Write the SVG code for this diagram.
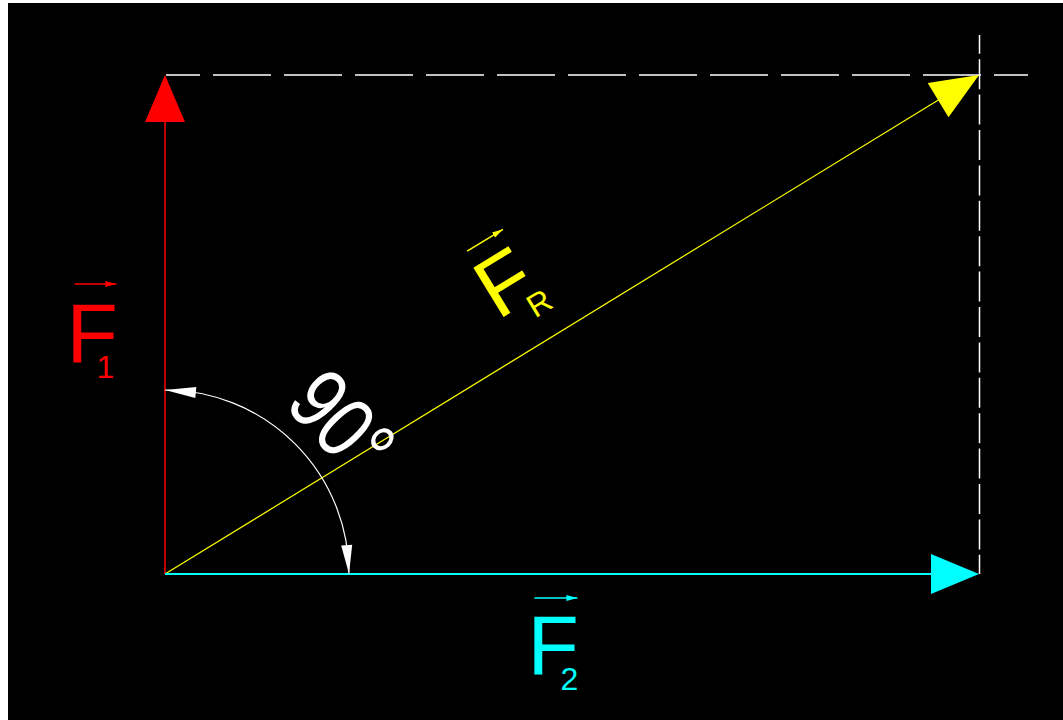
<svg xmlns="http://www.w3.org/2000/svg" width="1063" height="720" viewBox="0 0 1063 720">
  <style>
    text { font-family: "Liberation Sans", Arial, sans-serif; font-size: 84px; }
    .sub { font-size: 32px; }
    .red { fill: #ff0000; }
    .yel { fill: #ffff00; }
    .cya { fill: #00ffff; }
    .wht { fill: #ffffff; }
    .dash { stroke: #ffffff; stroke-width: 1.5; fill: none; }
  </style>
  <defs>
    <marker id="vecR" markerWidth="12" markerHeight="8" refX="11" refY="3.5" orient="auto" markerUnits="userSpaceOnUse">
      <path d="M0,0.5 L11,3.5 L0,6.5 Z" fill="#ff0000"/>
    </marker>
    <marker id="vecY" markerWidth="12" markerHeight="8" refX="11" refY="3.5" orient="auto" markerUnits="userSpaceOnUse">
      <path d="M0,0.5 L11,3.5 L0,6.5 Z" fill="#ffff00"/>
    </marker>
    <marker id="vecC" markerWidth="12" markerHeight="8" refX="11" refY="3.5" orient="auto" markerUnits="userSpaceOnUse">
      <path d="M0,0.5 L11,3.5 L0,6.5 Z" fill="#00ffff"/>
    </marker>
  </defs>

  <rect x="0" y="0" width="1063" height="720" fill="#ffffff"/>
  <rect x="8" y="3" width="1055" height="717" fill="#000000"/>

  <g id="guides">
    <line class="dash" x1="166" y1="75" x2="1028" y2="75" stroke-dasharray="58 13" stroke-dashoffset="24"/>
    <line class="dash" x1="979.5" y1="35" x2="979.5" y2="574" stroke-dasharray="30 5.4" stroke-dashoffset="11.2"/>
  </g>

  <g id="connectors">
    <line x1="165" y1="574" x2="165" y2="120" stroke="#ff0000" stroke-width="1.5"/>
    <polygon points="165,75 185,122 145,122" fill="#ff0000"/>
    <line x1="165" y1="574" x2="940" y2="99" stroke="#ffff00" stroke-width="1.2"/>
    <polygon points="979,75 948.5,117.2 927.7,83" fill="#ffff00"/>
    <line x1="165" y1="574" x2="933" y2="574" stroke="#00ffff" stroke-width="1.8"/>
    <polygon points="979,574 931,554 931,594" fill="#00ffff"/>
    <path d="M165,390 A184,184 0 0,1 349,574" fill="none" stroke="#ffffff" stroke-width="1.2"/>
    <polygon points="165,390 196.3,387.1 195.3,398.1" fill="#ffffff"/>
    <polygon points="349,574 352.2,544.7 341.2,545.5" fill="#ffffff"/>
  </g>

  <g id="F1" transform="translate(66.4,362)">
    <line x1="8" y1="-78" x2="50" y2="-78" stroke="#ff0000" stroke-width="1.5" marker-end="url(#vecR)"/>
    <text class="red" x="0" y="0">F<tspan class="sub" x="30" y="16">1</tspan></text>
  </g>

  <g id="F2" transform="translate(527.4,674)">
    <line x1="7" y1="-76" x2="50" y2="-76" stroke="#00ffff" stroke-width="1.5" marker-end="url(#vecC)"/>
    <text class="cya" x="0" y="0">F<tspan class="sub" x="33" y="16">2</tspan></text>
  </g>

  <g id="FR" transform="translate(497.8,320.4) rotate(-31.5)">
    <line x1="10" y1="-75" x2="52" y2="-75" stroke="#ffff00" stroke-width="1.5" marker-end="url(#vecY)"/>
    <text class="yel" x="0" y="0">F<tspan class="sub" x="33" y="18">R</tspan></text>
  </g>

  <g id="angle" transform="translate(283.4,405.3) rotate(47) scale(0.8,1)">
    <text class="wht" x="0" y="0" font-size="88" style="font-size:88px">90°</text>
  </g>
</svg>
